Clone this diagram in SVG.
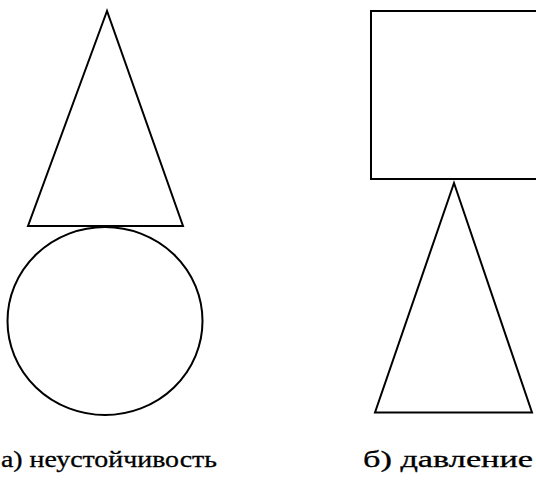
<svg xmlns="http://www.w3.org/2000/svg" width="536" height="487" viewBox="0 0 536 487">
<style>
.s{fill:none;stroke:#000;stroke-width:2;stroke-linejoin:miter}
.t{font-family:'Liberation Serif','Times New Roman',serif;font-size:23px;fill:#000;stroke:#000;stroke-width:0.3}
</style>
<rect width="536" height="487" fill="#fff"/>
<g id="a-triangle"><polygon class="s" points="107,11 28,226 183,226"/></g>
<g id="a-circle"><ellipse class="s" cx="105" cy="321" rx="97.5" ry="94"/></g>
<g id="b-rect"><path class="s" d="M537 11 H371 V179 H537"/></g>
<g id="b-triangle"><polygon class="s" points="454,183 375,412.5 532,412.5"/></g>
<g id="connectors"></g>
<text class="t" x="1" y="467" textLength="216" lengthAdjust="spacingAndGlyphs">а) неустойчивость</text>
<text class="t" x="363" y="467" textLength="170" lengthAdjust="spacingAndGlyphs">б) давление</text>
</svg>
